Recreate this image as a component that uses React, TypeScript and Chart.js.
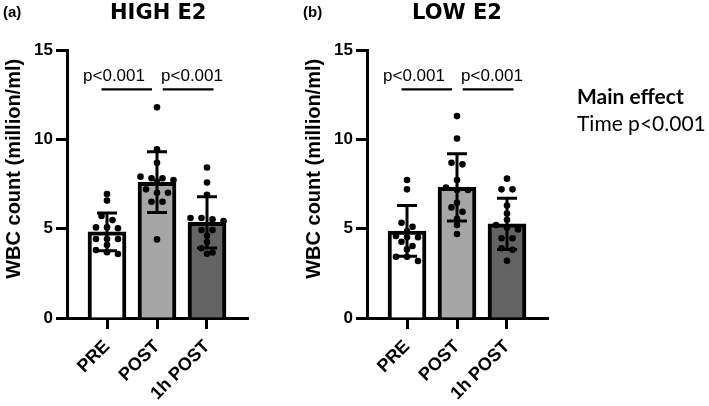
import React, { useEffect, useRef } from 'react';
import { Chart, registerables } from 'chart.js';

Chart.register(...registerables);

// ---- data -------------------------------------------------------------
const categories = ['PRE', 'POST', '1h POST'];
const yTicks = [0, 5, 10, 15];

// HIGH E2: group means, SD and individual participants
const highMean = [4.82, 7.6, 5.35];
const highSD = [1.05, 1.7, 1.43];
const highPre = [6.94, 6.57, 5.71, 5.48, 5.07, 5.07, 5.02, 4.42, 4.42, 4.42, 4.08, 3.8, 3.68, 3.58];
const highPost = [11.79, 9.44, 8.69, 7.91, 7.82, 7.82, 7.72, 7.63, 7.2, 7.01, 7.01, 6.51, 6.51, 4.4];
const highPost1h = [8.42, 7.58, 6.9, 5.6, 5.6, 5.52, 5.43, 4.92, 4.92, 4.6, 4.25, 3.9, 3.67, 3.6];

// LOW E2
const lowMean = [4.87, 7.31, 5.27];
const lowSD = [1.42, 1.88, 1.43];
const lowPre = [7.72, 7.2, 5.33, 5.11, 4.85, 4.59, 4.52, 4.52, 4.27, 4.03, 3.84, 3.43, 3.43, 3.19];
const lowPost = [11.3, 10.05, 8.69, 8.6, 7.72, 7.3, 7.16, 7.16, 6.45, 6.19, 5.95, 5.55, 5.2, 4.7];
const lowPost1h = [7.8, 7.2, 7.2, 6.3, 5.85, 5.5, 5.2, 5.05, 4.96, 4.46, 4.46, 3.9, 3.82, 3.2];

// pairwise comparisons (PRE vs POST, POST vs 1h POST)
const pTexts = ['p<0.001', 'p<0.001'];
const bracketSpans = [[-0.11, 0.9], [1.115, 2.13]];
const bracketValue = 12.8;

const yTitle = 'WBC count (million/ml)';

// ---- styling ----------------------------------------------------------
const FONT = '"Liberation Sans", Arial, sans-serif';
const barFill = ['#ffffff', '#a6a6a6', '#636363'];
const CAP = 0.2; // half-width of error-bar caps, category units
const DOT_STEP = 0.22; // horizontal spacing of dots sharing a row
const ROW_GAP = 0.25; // values closer than this share a row

// spread points of one group into rows like a scatter dot plot
function swarm(values: number[], center: number) {
  const sorted = [...values].sort((a, b) => b - a);
  const rows: number[][] = [];
  for (const v of sorted) {
    const row = rows[rows.length - 1];
    if (row && row[0] - v < ROW_GAP) row.push(v);
    else rows.push([v]);
  }
  return rows.flatMap((row) =>
    row.map((v, k) => ({ x: center + (k - (row.length - 1) / 2) * DOT_STEP, y: v }))
  );
}

function errorBars(means: number[], sds: number[]) {
  const pts: { x: number; y: number | null }[] = [];
  means.forEach((m, i) => {
    const lo = m - sds[i];
    const hi = m + sds[i];
    pts.push(
      { x: i, y: lo }, { x: i, y: hi }, { x: i, y: null },
      { x: i - CAP, y: hi }, { x: i + CAP, y: hi }, { x: i, y: null },
      { x: i - CAP, y: lo }, { x: i + CAP, y: lo }, { x: i, y: null }
    );
  });
  return pts;
}

function bracketLines() {
  const pts: { x: number; y: number | null }[] = [];
  bracketSpans.forEach(([a, b]) => {
    pts.push({ x: a, y: bracketValue }, { x: b, y: bracketValue }, { x: b, y: null });
  });
  return pts;
}

const pLabelX = [0.14, 1.7];
const pLabelValue = 13.55;

const annotations = {
  id: 'panelAnnotations',
  afterDatasetsDraw(chart: any) {
    const { ctx, scales } = chart;
    const x = scales.x;
    const y = scales.y;
    ctx.save();
    ctx.fillStyle = '#000';
    ctx.textAlign = 'center';
    ctx.textBaseline = 'middle';
    ctx.font = `17px ${FONT}`;
    pTexts.forEach((t, i) => {
      ctx.fillText(t, x.getPixelForValue(pLabelX[i]), y.getPixelForValue(pLabelValue));
    });
    ctx.font = `bold 20px ${FONT}`;
    ctx.translate(14, y.getPixelForValue(8.35));
    ctx.rotate(-Math.PI / 2);
    ctx.fillText(yTitle, 0, 0);
    ctx.restore();
  },
};

function Panel({ left, means, sds, groups }: { left: number; means: number[]; sds: number[]; groups: number[][] }) {
  const ref = useRef<HTMLCanvasElement | null>(null);

  useEffect(() => {
    if (!ref.current) return;
    const dots = groups.flatMap((g, i) => swarm(g, i));
    const chart = new Chart(ref.current, {
      type: 'bar',
      data: {
        datasets: [
          {
            type: 'scatter',
            data: dots,
            pointRadius: 3.3,
            pointBackgroundColor: '#000',
            pointBorderWidth: 0,
            order: 1,
          } as any,
          {
            type: 'line',
            data: errorBars(means, sds),
            borderColor: '#000',
            borderWidth: 3,
            pointRadius: 0,
            spanGaps: false,
            fill: false,
            order: 2,
          } as any,
          {
            type: 'line',
            data: bracketLines(),
            borderColor: '#000',
            borderWidth: 2.2,
            pointRadius: 0,
            spanGaps: false,
            fill: false,
            order: 2,
          } as any,
          {
            type: 'bar',
            data: means.map((m, i) => ({ x: i, y: m })),
            backgroundColor: barFill,
            borderColor: '#000',
            borderWidth: 4,
            borderSkipped: 'start',
            barThickness: 38,
            order: 3,
          } as any,
        ],
      },
      options: {
        animation: false,
        responsive: false,
        events: [],
        layout: { padding: { top: 50, right: 52, left: 0, bottom: 0 } },
        plugins: { legend: { display: false }, tooltip: { enabled: false } },
        scales: {
          x: {
            type: 'linear',
            min: -0.8,
            max: 2.82,
            offset: false,
            afterBuildTicks: (s: any) => {
              s.ticks = categories.map((_, i) => ({ value: i }));
            },
            afterFit: (s: any) => {
              s.height = 88;
            },
            ticks: {
              autoSkip: false,
              minRotation: 45,
              maxRotation: 45,
              padding: 7,
              color: '#000',
              font: { family: FONT, size: 18, weight: 'bold' },
              callback: (v: any) => categories[v as number],
            },
            grid: { offset: false, drawOnChartArea: false, tickLength: 11, tickWidth: 3, color: '#000' },
            border: { display: true, width: 3, color: '#000' },
          },
          y: {
            min: 0,
            max: 15,
            afterBuildTicks: (s: any) => {
              s.ticks = yTicks.map((v) => ({ value: v }));
            },
            afterFit: (s: any) => {
              s.width = 67;
            },
            ticks: {
              padding: 3,
              color: '#000',
              font: { family: FONT, size: 17, weight: 'bold' },
            },
            grid: { drawOnChartArea: false, tickLength: 11, tickWidth: 3, color: '#000' },
            border: { display: true, width: 3, color: '#000' },
          },
        },
      } as any,
      plugins: [annotations],
    });
    return () => chart.destroy();
  }, []);

  return (
    <canvas
      ref={ref}
      width={300}
      height={406}
      style={{ position: 'absolute', left, top: 0, width: 300, height: 406 }}
    />
  );
}

const titleStyle: React.CSSProperties = {
  position: 'absolute',
  top: 1,
  fontFamily: '"DejaVu Sans", sans-serif',
  fontWeight: 'bold',
  fontSize: 21,
  lineHeight: '22px',
  whiteSpace: 'nowrap',
  color: '#000',
};

const tagStyle: React.CSSProperties = {
  position: 'absolute',
  top: 4,
  fontFamily: FONT,
  fontWeight: 'bold',
  fontSize: 15,
  lineHeight: '15px',
  color: '#000',
};

export default function App() {
  return (
    <div
      style={{
        position: 'absolute',
        left: 0,
        top: 0,
        width: 709,
        height: 406,
        overflow: 'hidden',
        background: '#fff',
      }}
    >
      <Panel left={0} means={highMean} sds={highSD} groups={[highPre, highPost, highPost1h]} />
      <Panel left={300} means={lowMean} sds={lowSD} groups={[lowPre, lowPost, lowPost1h]} />
      <div style={{ ...tagStyle, left: 3 }}>(a)</div>
      <div style={{ ...tagStyle, left: 303 }}>(b)</div>
      <div style={{ ...titleStyle, left: 110 }}>HIGH E2</div>
      <div style={{ ...titleStyle, left: 412 }}>LOW E2</div>
      <div
        style={{
          position: 'absolute',
          left: 577,
          top: 82,
          fontFamily: 'Lato, sans-serif',
          fontSize: 21,
          lineHeight: '27px',
          whiteSpace: 'nowrap',
          color: '#000',
        }}
      >
        <div style={{ fontWeight: 'bold' }}>Main effect</div>
        <div>Time p&lt;0.001</div>
      </div>
    </div>
  );
}
